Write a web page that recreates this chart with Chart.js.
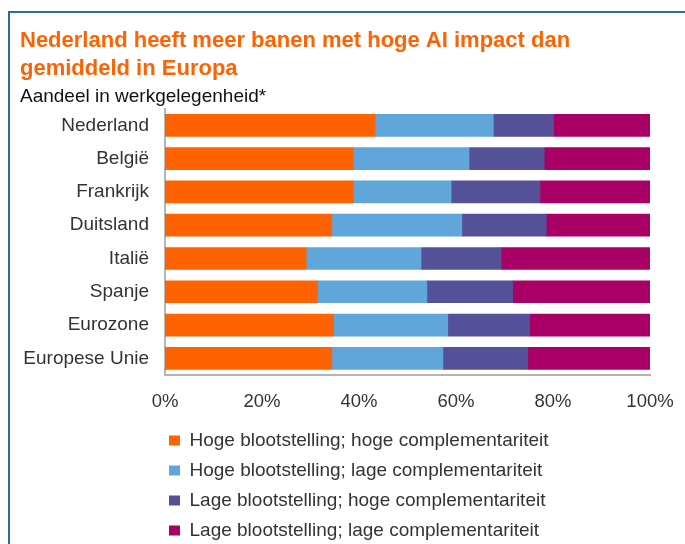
<!DOCTYPE html>
<html>
<head>
<meta charset="utf-8">
<script src="https://cdn.jsdelivr.net/npm/chart.js@4.4.1/dist/chart.umd.min.js"></script>
<style>
  html, body { margin: 0; padding: 0; background: #ffffff; overflow: hidden; }
  #wrap { position: relative; width: 685px; height: 544px; overflow: hidden; background: #fff; }
  #frame { position: absolute; left: 8px; top: 11px; width: 700px; height: 560px;
           border-left: 2px solid #2d6d93; border-top: 2px solid #2d6d93; box-sizing: border-box; }
  #c { position: absolute; left: 0; top: 0; }
</style>
</head>
<body>
<div id="wrap">
  <div id="frame"></div>
  <canvas id="c" width="685" height="544" style="width:685px;height:544px"></canvas>
</div>
<script>
const titleLines = ['Nederland heeft meer banen met hoge AI impact dan', 'gemiddeld in Europa'];
const subtitleText = 'Aandeel in werkgelegenheid*';
const categories = ['Nederland', 'België', 'Frankrijk', 'Duitsland', 'Italië', 'Spanje', 'Eurozone', 'Europese Unie'];
const seriesNames = [
  'Hoge blootstelling; hoge complementariteit',
  'Hoge blootstelling; lage complementariteit',
  'Lage blootstelling; hoge complementariteit',
  'Lage blootstelling; lage complementariteit'
];
const hogeHoge = [43.3, 38.8, 38.8, 34.4, 29.1, 31.4, 34.7, 34.4];
const hogeLage = [24.4, 23.9, 20.2, 26.8, 23.7, 22.6, 23.6, 22.9];
const lageHoge = [12.4, 15.5, 18.3, 17.4, 16.5, 17.7, 16.9, 17.5];
const lageLage = [19.9, 21.8, 22.7, 21.4, 30.7, 28.3, 24.8, 25.2];
const tickValues = [0, 20, 40, 60, 80, 100];
const tickLabels = ['0%', '20%', '40%', '60%', '80%', '100%'];

const colors = ['#ff6200', '#60a6da', '#545199', '#a80064'];
const FONT = "'Liberation Sans', Arial, Helvetica, sans-serif";
const seriesValues = [hogeHoge, hogeLage, lageHoge, lageLage];

const legendPlacer = {
  id: 'legendPlacer',
  afterLayout(chart) {
    const lg = chart.legend;
    if (!lg) return;
    const w = lg.right - lg.left;
    lg.left = 158;
    lg.right = 158 + w;
    const h = lg.bottom - lg.top;
    lg.top = 420;
    lg.bottom = 420 + h;
  }
};

new Chart(document.getElementById('c'), {
  type: 'bar',
  data: {
    labels: categories,
    datasets: seriesValues.map((vals, i) => ({
      label: seriesNames[i],
      data: vals,
      backgroundColor: colors[i],
      borderWidth: 0,
      barThickness: 22
    }))
  },
  options: {
    indexAxis: 'y',
    responsive: false,
    devicePixelRatio: 1,
    animation: false,
    layout: { padding: { top: 13, left: 20, right: 35, bottom: 0 } },
    scales: {
      x: {
        stacked: true,
        min: 0,
        max: 100,
        afterBuildTicks(s) { s.ticks = tickValues.map(v => ({ value: v })); },
        ticks: {
          callback: (v) => tickLabels[tickValues.indexOf(v)],
          font: { family: FONT, size: 18.5 },
          color: '#333333',
          padding: 16,
          maxRotation: 0
        },
        grid: { display: false, drawTicks: false },
        border: { display: true, color: '#b4b4b4', width: 2 },
        afterFit(s) { s.height = 39; s.paddingLeft = 0; s.paddingRight = 0; }
      },
      y: {
        stacked: true,
        ticks: {
          font: { family: FONT, size: 19 },
          color: '#333333',
          padding: 16
        },
        grid: { display: false, drawTicks: false },
        border: { display: true, color: '#b4b4b4', width: 2 },
        afterFit(s) { s.width = 145; s.paddingTop = 0; s.paddingBottom = 0; }
      }
    },
    plugins: {
      title: {
        display: true,
        text: titleLines,
        align: 'start',
        color: '#ff6200',
        font: { family: FONT, size: 22, weight: 'bold', lineHeight: 1.27 },
        padding: { top: 14, bottom: 1 }
      },
      subtitle: {
        display: true,
        text: subtitleText,
        align: 'start',
        color: '#111111',
        font: { family: FONT, size: 19, lineHeight: 1.2 },
        padding: { top: 1, bottom: 1 }
      },
      legend: {
        display: true,
        position: 'bottom',
        align: 'start',
        labels: {
          boxWidth: 11,
          boxHeight: 10,
          padding: 11,
          color: '#333333',
          font: { family: FONT, size: 19 }
        }
      },
      tooltip: { enabled: false }
    }
  },
  plugins: [legendPlacer]
});
</script>
</body>
</html>
